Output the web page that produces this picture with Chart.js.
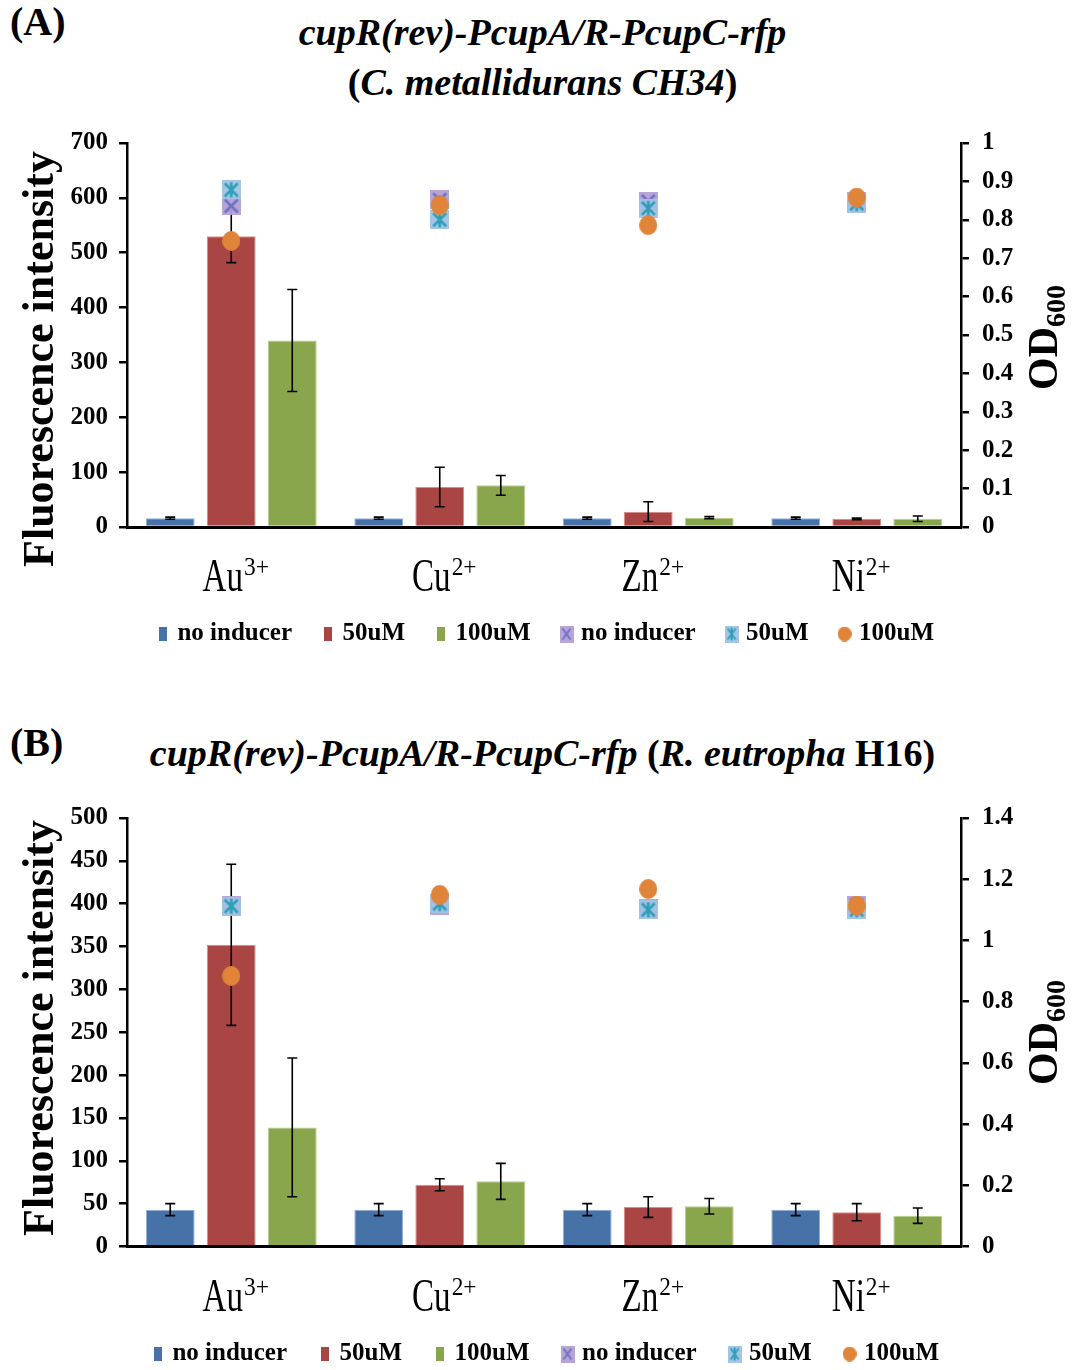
<!DOCTYPE html>
<html>
<head>
<meta charset="utf-8">
<script src="https://cdn.jsdelivr.net/npm/chart.js@4.4.1/dist/chart.umd.min.js"></script>
<style>
    body{
        margin:0;
        background:#fff;
        width:1073px;
        height:1370px;
        position:relative;
        overflow:hidden;
        font-family:"Liberation Serif","Times New Roman",serif;
        color:#000;
    }
    .tag{position:absolute;left:10px;font-weight:bold;font-size:40px;line-height:40px;}
    .title{position:absolute;left:6px;width:1073px;text-align:center;font-weight:bold;font-size:38px;line-height:50px;white-space:nowrap;}
    .title i{font-style:italic;}
    canvas{position:absolute;left:0;}
</style>
</head>
<body>
<div class="tag" style="top:2px">(A)</div>
<div class="title" style="top:7px"><i>cupR(rev)-PcupA/R-PcupC-rfp</i><br>(<i>C. metallidurans CH34</i>)</div>
<canvas id="chartA" width="1073" height="560" style="top:110px"></canvas>

<div class="tag" style="top:723px">(B)</div>
<div class="title" style="top:728px"><i>cupR(rev)-PcupA/R-PcupC-rfp</i> (<i>R. eutropha</i> H16)</div>
<canvas id="chartB" width="1073" height="590" style="top:790px"></canvas>

<script>
const metals = ["Au", "Cu", "Zn", "Ni"];
const charges = ["3+", "2+", "2+", "2+"];
const seriesNames = ["no inducer", "50uM", "100uM"];

// (A) C. metallidurans CH34 - fluorescence (left axis)
const fluorA_none = [16, 16, 16, 16];
const fluorA_50 = [530, 73, 28, 15];
const fluorA_100 = [340, 76, 17, 15];
const errA_none = [2, 2, 2, 2];
const errA_50 = [48, 36, 18, 1.5];
const errA_100 = [93, 18, 2, 5];
// (A) OD600 (right axis)
const odA_none = [0.836, 0.852, 0.848, 0.847];
const odA_50 = [0.878, 0.80, 0.83, 0.842];
const odA_100 = [0.745, 0.838, 0.786, 0.858];
const leftTicksA = [0, 100, 200, 300, 400, 500, 600, 700];
const rightTicksA = [0, 0.1, 0.2, 0.3, 0.4, 0.5, 0.6, 0.7, 0.8, 0.9, 1];

// (B) R. eutropha H16
const fluorB_none = [43, 43, 43, 43];
const fluorB_50 = [352, 72, 46, 40];
const fluorB_100 = [139, 76, 47, 36];
const errB_none = [7, 7, 7, 7];
const errB_50 = [94, 7, 12, 10];
const errB_100 = [81, 21, 9, 9];
const odB_none = [1.115, 1.115, 1.105, 1.115];
const odB_50 = [1.112, 1.12, 1.10, 1.10];
const odB_100 = [0.884, 1.149, 1.168, 1.114];
const leftTicksB = [0, 50, 100, 150, 200, 250, 300, 350, 400, 450, 500];
const rightTicksB = [0, 0.2, 0.4, 0.6, 0.8, 1, 1.2, 1.4];

const SERIF = '"Liberation Serif", "Times New Roman", serif';
const barColors = ["#4672a8", "#a94543", "#8aa64d"];
const barEdges = ["#8fb0d8", "#d88a88", "#b9cf8c"];

// marker sprites used both on the plot and in the legend
function makeMark(kind, w, h, color, lw){
    const c = document.createElement("canvas");
    c.width = w;
    c.height = h;
    const g = c.getContext("2d");
    g.lineWidth = lw || 2;
    if(kind === "bar"){
        g.fillStyle = color;
        g.fillRect(0, 0, w, h);
    } else if(kind === "xbox"){
        g.fillStyle = "rgba(178,160,212,0.95)";
        g.fillRect(0, 0, w, h);
        g.strokeStyle = "#6f70c2";
        g.beginPath();
        g.moveTo(3, 3); g.lineTo(w - 3, h - 3);
        g.moveTo(w - 3, 3); g.lineTo(3, h - 3);
        g.stroke();
    } else if(kind === "starbox"){
        g.fillStyle = "rgba(160,194,230,0.95)";
        g.fillRect(0, 0, w, h);
        g.strokeStyle = "#2f9fb6";
        g.beginPath();
        g.moveTo(3, 3); g.lineTo(w - 3, h - 3);
        g.moveTo(w - 3, 3); g.lineTo(3, h - 3);
        g.moveTo(w / 2, 2); g.lineTo(w / 2, h - 2);
        g.stroke();
    } else {
        g.fillStyle = "#e0843a";
        g.beginPath();
        g.ellipse(w / 2, h / 2, w / 2, h / 2, 0, 0, Math.PI * 2);
        g.fill();
    }
    return c;
}

const plotMarks = [makeMark("xbox", 19, 19, null, 2.6), makeMark("starbox", 19, 19, null, 2.6), makeMark("dot", 18, 20)];
const legendMarks = [
    makeMark("bar", 8, 14, barColors[0]),
    makeMark("bar", 8, 14, barColors[1]),
    makeMark("bar", 8, 14, barColors[2]),
    makeMark("xbox", 14, 17),
    makeMark("starbox", 14, 17),
    makeMark("dot", 14, 15)
];

// black error bars with caps on top of each bar dataset
const errorBars = {
    id: "errorBars",
    afterDatasetDraw(chart, args){
        const ds = chart.data.datasets[args.index];
        if(!ds.errors) return;
        const y = chart.scales.y;
        const ctx = chart.ctx;
        ctx.save();
        ctx.strokeStyle = "#000";
        ctx.lineWidth = 1.6;
        args.meta.data.forEach((bar, i) => {
            const v = ds.data[i];
            const e = ds.errors[i];
            const top = y.getPixelForValue(v + e);
            const bot = y.getPixelForValue(v - e);
            ctx.beginPath();
            ctx.moveTo(bar.x, top); ctx.lineTo(bar.x, bot);
            ctx.moveTo(bar.x - 5, top); ctx.lineTo(bar.x + 5, top);
            ctx.moveTo(bar.x - 5, bot); ctx.lineTo(bar.x + 5, bot);
            ctx.stroke();
        });
        ctx.restore();
    }
};

// category names with superscript charge, axis titles with OD subscript
const panelText = {
    id: "panelText",
    afterDraw(chart, args, opts){
        const {ctx, chartArea, scales} = chart;
        ctx.save();
        ctx.fillStyle = "#000";
        ctx.textBaseline = "alphabetic";
        ctx.textAlign = "left";

        const squeeze = 0.72;
        const base = chartArea.bottom + opts.catOffset;
        metals.forEach((m, i) => {
            const cx = scales.x.getPixelForValue(i);
            ctx.font = "46px " + SERIF;
            const w1 = ctx.measureText(m).width * squeeze;
            ctx.font = "26px " + SERIF;
            const w2 = ctx.measureText(charges[i]).width * 0.9;
            const x0 = cx - (w1 + w2) / 2 + 4;
            ctx.save();
            ctx.translate(x0, base);
            ctx.scale(squeeze, 1);
            ctx.font = "46px " + SERIF;
            ctx.fillText(m, 0, 0);
            ctx.restore();
            ctx.save();
            ctx.translate(x0 + w1 + 1, base - 16);
            ctx.scale(0.9, 1);
            ctx.font = "26px " + SERIF;
            ctx.fillText(charges[i], 0, 0);
            ctx.restore();
        });

        ctx.save();
        ctx.translate(opts.yTitleX, opts.yTitleY);
        ctx.rotate(-Math.PI / 2);
        ctx.textAlign = "center";
        ctx.font = "bold 44px " + SERIF;
        ctx.fillText("Fluorescence intensity", 0, 0);
        ctx.restore();

        ctx.save();
        ctx.translate(opts.odX, opts.odY);
        ctx.rotate(-Math.PI / 2);
        ctx.font = "bold 42px " + SERIF;
        ctx.fillText("OD", 0, 0);
        const wOD = ctx.measureText("OD").width;
        ctx.font = "bold 28px " + SERIF;
        ctx.fillText("600", wOD, 8);
        ctx.restore();

        ctx.restore();
    }
};

function tickOptions(padding){
    return {
        color: "#000",
        padding: padding,
        font: {family: SERIF, size: 25, weight: "bold"},
        callback: v => String(+v.toFixed(2))
    };
}

function buildPanel(id, d){
    const datasets = [
        {label: seriesNames[0], data: d.none, errors: d.errNone},
        {label: seriesNames[1], data: d.c50, errors: d.err50},
        {label: seriesNames[2], data: d.c100, errors: d.err100}
    ].map((ds, i) => Object.assign(ds, {
        type: "bar",
        yAxisID: "y",
        backgroundColor: barColors[i],
        borderColor: barEdges[i],
        borderWidth: 1,
        categoryPercentage: 0.878,
        barPercentage: 0.8,
        order: 10
    }));

    [d.odNone, d.od50, d.od100].forEach((vals, i) => {
        datasets.push({
            type: "line",
            label: seriesNames[i],
            data: vals,
            yAxisID: "y2",
            showLine: false,
            pointStyle: plotMarks[i],
            pointRadius: 9,
            order: 3 - i
        });
    });

    new Chart(document.getElementById(id), {
        data: {labels: metals, datasets: datasets},
        plugins: [errorBars, panelText],
        options: {
            responsive: false,
            animation: false,
            events: [],
            layout: {padding: {top: d.padTop, bottom: d.padBottom, left: 22, right: 0}},
            plugins: {
                tooltip: {enabled: false},
                legend: {
                    position: "bottom",
                    labels: {
                        color: "#000",
                        font: {family: SERIF, size: 25, weight: "bold"},
                        usePointStyle: true,
                        pointStyleWidth: 4,
                        padding: d.legendPad,
                        sort: (a, b) => a.datasetIndex - b.datasetIndex,
                        generateLabels(chart){
                            const items = Chart.defaults.plugins.legend.labels.generateLabels(chart);
                            items.forEach(it => { it.pointStyle = legendMarks[it.datasetIndex]; });
                            return items;
                        }
                    }
                },
                panelText: d.text
            },
            scales: {
                x: {
                    grid: {display: false},
                    border: {display: true, color: "#000", width: 3},
                    ticks: {display: false},
                    afterFit: s => { s.height = d.xHeight; }
                },
                y: {
                    position: "left",
                    min: d.leftTicks[0],
                    max: d.leftTicks[d.leftTicks.length - 1],
                    afterBuildTicks: s => { s.ticks = d.leftTicks.map(v => ({value: v})); },
                    grid: {drawOnChartArea: false, color: "#000", lineWidth: 2.5, tickLength: 8},
                    border: {display: true, color: "#000", width: 2.5},
                    ticks: tickOptions(11),
                    afterFit: s => { s.width = 105; }
                },
                y2: {
                    position: "right",
                    min: d.rightTicks[0],
                    max: d.rightTicks[d.rightTicks.length - 1],
                    afterBuildTicks: s => { s.ticks = d.rightTicks.map(v => ({value: v})); },
                    grid: {drawOnChartArea: false, color: "#000", lineWidth: 2.5, tickLength: 8},
                    border: {display: true, color: "#000", width: 2.5},
                    ticks: tickOptions(13),
                    afterFit: s => { s.width = 112; }
                }
            }
        }
    });
}

buildPanel("chartA", {
    none: fluorA_none, c50: fluorA_50, c100: fluorA_100,
    errNone: errA_none, err50: errA_50, err100: errA_100,
    odNone: odA_none, od50: odA_50, od100: odA_100,
    leftTicks: leftTicksA, rightTicks: rightTicksA,
    padTop: 33, padBottom: 13.5, xHeight: 60.5, legendPad: 34,
    text: {catOffset: 64, yTitleX: 53, yTitleY: 249, odX: 1057, odY: 280}
});

buildPanel("chartB", {
    none: fluorB_none, c50: fluorB_50, c100: fluorB_100,
    errNone: errB_none, err50: errB_50, err100: errB_100,
    odNone: odB_none, od50: odB_50, od100: odB_100,
    leftTicks: leftTicksB, rightTicks: rightTicksB,
    padTop: 22.7, padBottom: 3.5, xHeight: 59, legendPad: 36,
    text: {catOffset: 64, yTitleX: 53, yTitleY: 238, odX: 1057, odY: 295}
});
</script>
</body>
</html>
